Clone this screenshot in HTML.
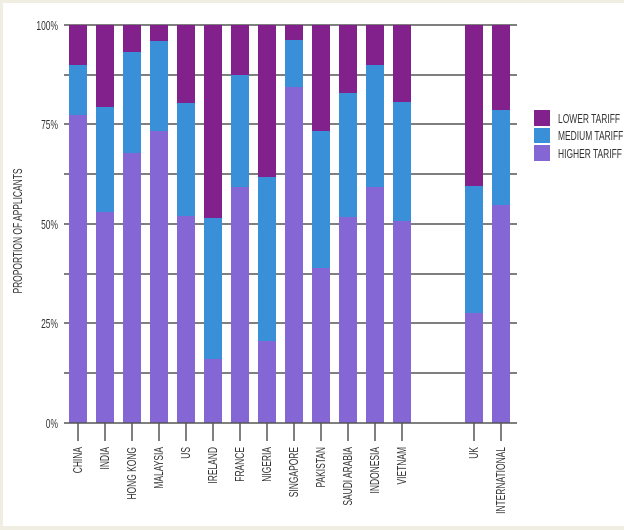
<!DOCTYPE html>
<html><head><style>
html,body{margin:0;padding:0;background:#f0eee2;}
svg{display:block;}
text{font-family:"Liberation Sans",sans-serif;fill:#333;}
</style></head><body>
<svg width="624" height="530" viewBox="0 0 624 530" xmlns="http://www.w3.org/2000/svg">
<rect x="0" y="0" width="624" height="530" fill="#f0eee2"/>
<rect x="3" y="3" width="621" height="523" fill="#fff"/>
<g stroke="#555" stroke-width="1.5">
<line x1="64" y1="25" x2="517" y2="25"/><line x1="64" y1="75" x2="517" y2="75"/>
<line x1="64" y1="124" x2="517" y2="124"/><line x1="64" y1="174" x2="517" y2="174"/>
<line x1="64" y1="224" x2="517" y2="224"/><line x1="64" y1="274" x2="517" y2="274"/>
<line x1="64" y1="323" x2="517" y2="323"/><line x1="64" y1="373" x2="517" y2="373"/>
</g>
<g>
<rect x="69" y="25" width="18" height="40" fill="#82218b"/><rect x="69" y="65" width="18" height="50" fill="#3a8fd9"/><rect x="69" y="115" width="18" height="308" fill="#8466d4"/>
<rect x="96" y="25" width="18" height="82" fill="#82218b"/><rect x="96" y="107" width="18" height="105" fill="#3a8fd9"/><rect x="96" y="212" width="18" height="211" fill="#8466d4"/>
<rect x="123" y="25" width="18" height="27" fill="#82218b"/><rect x="123" y="52" width="18" height="101" fill="#3a8fd9"/><rect x="123" y="153" width="18" height="270" fill="#8466d4"/>
<rect x="150" y="25" width="18" height="16" fill="#82218b"/><rect x="150" y="41" width="18" height="90" fill="#3a8fd9"/><rect x="150" y="131" width="18" height="292" fill="#8466d4"/>
<rect x="177" y="25" width="18" height="78" fill="#82218b"/><rect x="177" y="103" width="18" height="113" fill="#3a8fd9"/><rect x="177" y="216" width="18" height="207" fill="#8466d4"/>
<rect x="204" y="25" width="18" height="193" fill="#82218b"/><rect x="204" y="218" width="18" height="141" fill="#3a8fd9"/><rect x="204" y="359" width="18" height="64" fill="#8466d4"/>
<rect x="231" y="25" width="18" height="50" fill="#82218b"/><rect x="231" y="75" width="18" height="112" fill="#3a8fd9"/><rect x="231" y="187" width="18" height="236" fill="#8466d4"/>
<rect x="258" y="25" width="18" height="152" fill="#82218b"/><rect x="258" y="177" width="18" height="164" fill="#3a8fd9"/><rect x="258" y="341" width="18" height="82" fill="#8466d4"/>
<rect x="285" y="25" width="18" height="15" fill="#82218b"/><rect x="285" y="40" width="18" height="47" fill="#3a8fd9"/><rect x="285" y="87" width="18" height="336" fill="#8466d4"/>
<rect x="312" y="25" width="18" height="106" fill="#82218b"/><rect x="312" y="131" width="18" height="137" fill="#3a8fd9"/><rect x="312" y="268" width="18" height="155" fill="#8466d4"/>
<rect x="339" y="25" width="18" height="68" fill="#82218b"/><rect x="339" y="93" width="18" height="124" fill="#3a8fd9"/><rect x="339" y="217" width="18" height="206" fill="#8466d4"/>
<rect x="366" y="25" width="18" height="40" fill="#82218b"/><rect x="366" y="65" width="18" height="122" fill="#3a8fd9"/><rect x="366" y="187" width="18" height="236" fill="#8466d4"/>
<rect x="393" y="25" width="18" height="77" fill="#82218b"/><rect x="393" y="102" width="18" height="119" fill="#3a8fd9"/><rect x="393" y="221" width="18" height="202" fill="#8466d4"/>
<rect x="465" y="25" width="18" height="161" fill="#82218b"/><rect x="465" y="186" width="18" height="127" fill="#3a8fd9"/><rect x="465" y="313" width="18" height="110" fill="#8466d4"/>
<rect x="492" y="25" width="18" height="85" fill="#82218b"/><rect x="492" y="110" width="18" height="95" fill="#3a8fd9"/><rect x="492" y="205" width="18" height="218" fill="#8466d4"/>
</g>
<line x1="64" y1="423" x2="517" y2="423" stroke="#555" stroke-width="1.5"/>
<g stroke="#555" stroke-width="1.5">
<line x1="78" y1="423" x2="78" y2="441"/><line x1="105" y1="423" x2="105" y2="441"/><line x1="132" y1="423" x2="132" y2="441"/><line x1="159" y1="423" x2="159" y2="441"/><line x1="186" y1="423" x2="186" y2="441"/><line x1="213" y1="423" x2="213" y2="441"/><line x1="240" y1="423" x2="240" y2="441"/><line x1="267" y1="423" x2="267" y2="441"/><line x1="294" y1="423" x2="294" y2="441"/><line x1="321" y1="423" x2="321" y2="441"/><line x1="348" y1="423" x2="348" y2="441"/><line x1="375" y1="423" x2="375" y2="441"/><line x1="402" y1="423" x2="402" y2="441"/><line x1="474" y1="423" x2="474" y2="441"/><line x1="501" y1="423" x2="501" y2="441"/>
</g>
<g font-size="13" text-anchor="end">
<text transform="translate(82,447) rotate(-90) scale(0.65,1)">CHINA</text>
<text transform="translate(109,447) rotate(-90) scale(0.65,1)">INDIA</text>
<text transform="translate(136,447) rotate(-90) scale(0.65,1)">HONG KONG</text>
<text transform="translate(163,447) rotate(-90) scale(0.65,1)">MALAYSIA</text>
<text transform="translate(190,447) rotate(-90) scale(0.65,1)">US</text>
<text transform="translate(217,447) rotate(-90) scale(0.65,1)">IRELAND</text>
<text transform="translate(244,447) rotate(-90) scale(0.65,1)">FRANCE</text>
<text transform="translate(271,447) rotate(-90) scale(0.65,1)">NIGERIA</text>
<text transform="translate(298,447) rotate(-90) scale(0.65,1)">SINGAPORE</text>
<text transform="translate(325,447) rotate(-90) scale(0.65,1)">PAKISTAN</text>
<text transform="translate(352,447) rotate(-90) scale(0.65,1)">SAUDI ARABIA</text>
<text transform="translate(379,447) rotate(-90) scale(0.65,1)">INDONESIA</text>
<text transform="translate(406,447) rotate(-90) scale(0.65,1)">VIETNAM</text>
<text transform="translate(478,447) rotate(-90) scale(0.65,1)">UK</text>
<text transform="translate(505,447) rotate(-90) scale(0.65,1)">INTERNATIONAL</text>
</g>
<g font-size="13" text-anchor="end">
<text transform="translate(58,30) scale(0.65,1)">100%</text>
<text transform="translate(58,129) scale(0.65,1)">75%</text>
<text transform="translate(58,229) scale(0.65,1)">50%</text>
<text transform="translate(58,328) scale(0.65,1)">25%</text>
<text transform="translate(58,428) scale(0.65,1)">0%</text>
</g>
<text transform="translate(22,231) rotate(-90) scale(0.65,1)" text-anchor="middle" font-size="13">PROPORTION OF APPLICANTS</text>
<rect x="534" y="110" width="16" height="16" fill="#82218b"/>
<rect x="534" y="128" width="16" height="15" fill="#3a8fd9"/>
<rect x="534" y="145" width="16" height="16" fill="#8466d4"/>
<g font-size="13">
<text transform="translate(558,123) scale(0.65,1)">LOWER TARIFF</text>
<text transform="translate(558,140) scale(0.65,1)">MEDIUM TARIFF</text>
<text transform="translate(558,158) scale(0.65,1)">HIGHER TARIFF</text>
</g>
</svg>
</body></html>
